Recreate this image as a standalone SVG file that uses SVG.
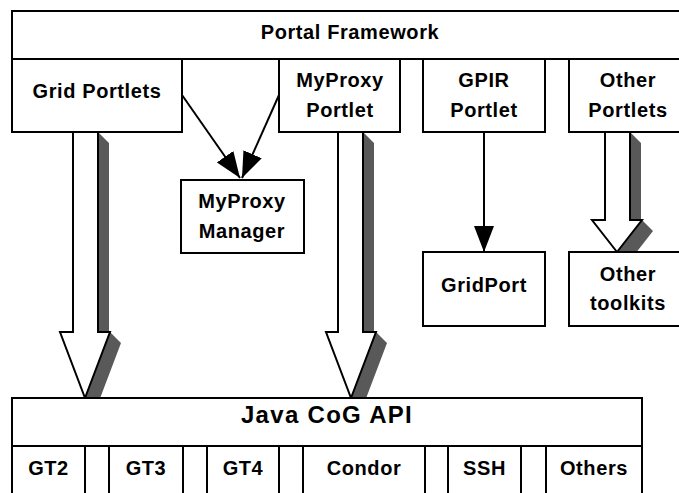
<svg xmlns="http://www.w3.org/2000/svg" width="679" height="493" viewBox="0 0 679 493">
<defs>
<style>
.box{fill:#fff;stroke:#000;stroke-width:2}
.t{font-family:"Liberation Sans",Arial,sans-serif;font-weight:bold;font-size:20px;letter-spacing:0.6px;text-anchor:middle;fill:#000}
.big{font-size:24px;letter-spacing:1.3px}
.ln{stroke:#000;stroke-width:2;fill:none}
.sh{fill:#595959;stroke:none}
.ar{fill:#fff;stroke:#000;stroke-width:2;stroke-linejoin:miter}
</style>
<marker id="ah" markerUnits="userSpaceOnUse" markerWidth="26" markerHeight="20" refX="26" refY="10" orient="auto" viewBox="0 0 26 20">
<path d="M0,0 L26,10 L0,20 z" fill="#000"/>
</marker>
</defs>
<rect width="679" height="493" fill="#fff"/>
<g id="connectors">
<line class="ln" x1="182" y1="95" x2="240" y2="178" marker-end="url(#ah)"/>
<line class="ln" x1="279" y1="95" x2="242" y2="178" marker-end="url(#ah)"/>
<line class="ln" x1="484" y1="132" x2="484" y2="252" marker-end="url(#ah)"/>
<g id="arrow-grid">
<polygon class="sh" points="98,132 109,143 109,332 110,332 121,343 96,409 85,398"/>
<polygon class="ar" points="73,132 98,132 98,332 110,332 85,398 60,332 73,332"/>
</g>
<g id="arrow-myproxy">
<polygon class="sh" points="363,132 374,143 374,332 376,332 387,343 362,409 351,398"/>
<polygon class="ar" points="338,132 363,132 363,332 376,332 351,398 326,332 338,332"/>
</g>
<g id="arrow-other">
<polygon class="sh" points="630,132 641,143 641,220 642,220 653,231 628,263 617,252"/>
<polygon class="ar" points="605,132 630,132 630,220 642,220 617,252 592,220 605,220"/>
</g>
</g>
<g id="portal-framework">
<rect class="box" x="12" y="11" width="676" height="48"/>
<text class="t" x="350" y="38.5">Portal Framework</text>
</g>
<g id="grid-portlets">
<rect class="box" x="12" y="59" width="170" height="73"/>
<text class="t" x="97" y="97.5">Grid Portlets</text>
</g>
<g id="myproxy-portlet">
<rect class="box" x="279" y="59" width="121" height="73"/>
<text class="t" x="340" y="87">MyProxy</text>
<text class="t" x="340" y="117">Portlet</text>
</g>
<g id="gpir-portlet">
<rect class="box" x="423" y="59" width="122" height="73"/>
<text class="t" x="484" y="87">GPIR</text>
<text class="t" x="484" y="117">Portlet</text>
</g>
<g id="other-portlets">
<rect class="box" x="569" y="59" width="119" height="73"/>
<text class="t" x="628" y="87">Other</text>
<text class="t" x="628" y="117">Portlets</text>
</g>
<g id="myproxy-manager">
<rect class="box" x="181" y="180" width="123" height="73"/>
<text class="t" x="242" y="208">MyProxy</text>
<text class="t" x="242" y="238">Manager</text>
</g>
<g id="gridport">
<rect class="box" x="423" y="252" width="122" height="74"/>
<text class="t" x="484" y="292">GridPort</text>
</g>
<g id="other-toolkits">
<rect class="box" x="569" y="252" width="119" height="74"/>
<text class="t" x="628" y="281">Other</text>
<text class="t" x="628" y="310">toolkits</text>
</g>
<g id="java-cog-api">
<rect class="box" x="12" y="398" width="630" height="48"/>
<text class="t big" x="327" y="423">Java CoG API</text>
<path class="ln" d="M12,446 V500 M85,446 V500 M109,446 V500 M183,446 V500 M207,446 V500 M279,446 V500 M303,446 V500 M425,446 V500 M448,446 V500 M521,446 V500 M546,446 V500 M642,446 V500"/>
<text class="t" x="48.5" y="475">GT2</text>
<text class="t" x="146" y="475">GT3</text>
<text class="t" x="243" y="475">GT4</text>
<text class="t" x="364" y="475">Condor</text>
<text class="t" x="484.5" y="475">SSH</text>
<text class="t" x="594" y="475">Others</text>
</g>
</svg>
